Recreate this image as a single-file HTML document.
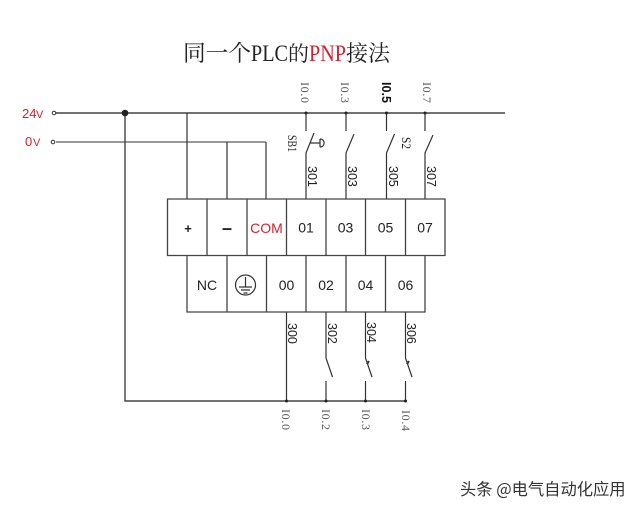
<!DOCTYPE html>
<html><head><meta charset="utf-8"><style>
html,body{margin:0;padding:0;background:#fff}
svg{display:block}
text{font-family:"Liberation Sans","Noto Sans CJK SC",sans-serif}
.s{font-family:"Liberation Serif","Noto Serif CJK SC",serif}
.i{font-family:"Liberation Serif",serif;font-size:12px;fill:#555}
</style></head><body>
<svg width="640" height="512" viewBox="0 0 640 512" xmlns="http://www.w3.org/2000/svg">
<rect width="640" height="512" fill="#fff"/>
<text x="183" y="61" class="s" font-size="22.700" fill="#222">同一个</text>
<text x="251" y="61" class="s" font-size="23" fill="#222" textLength="37" lengthAdjust="spacingAndGlyphs">PLC</text>
<text x="288" y="61" class="s" font-size="21" fill="#222">的</text>
<text x="309" y="61" class="s" font-size="23" fill="#d42030" textLength="37" lengthAdjust="spacingAndGlyphs">PNP</text>
<text x="346" y="61" class="s" font-size="22" fill="#222">接法</text>

<text x="22" y="118" font-size="13" fill="#d9202a">24</text><text x="36" y="118" font-size="11" fill="#d9202a">V</text>
<text x="25" y="146" font-size="13" fill="#d9202a">0</text><text x="33" y="146" font-size="11" fill="#d9202a">V</text>

<g fill="none" stroke="#333" stroke-width="1.2">
<path d="M56 113H505" stroke="#444" stroke-width="1.6"/>
<path d="M56 142H266" stroke-width="1.1"/>
<circle cx="54" cy="113" r="1.8" fill="#fff" stroke-width="1"/>
<circle cx="53" cy="142" r="1.8" fill="#fff" stroke-width="1"/>
<path d="M125 113V401H407" stroke="#444" stroke-width="1.4"/>
<path d="M187 113V199M227 142V199M266 142V199"/>
<!-- top switches -->
<path d="M306 113V131M306 199V153L314 133M346 113V131M346 199V153L354 134M386.500 113V131M386.500 199V153L394.500 134M425 113V131M425 199V153L433 135"/>
<path d="M310 143H320M320 139V147M320 139C325.500 139 325.500 147 320 147"/>
<!-- bottom switches -->
<path d="M286.500 312V401M326 312V358L332.500 377M326 381V401M365.500 312V358L372 377M365.500 381V401M405.500 312V358L412 377M405.500 381V401"/>
<path d="M367 364L369 361M407 364L409 361" stroke-width="2"/>
<!-- terminal block -->
<path d="M167.500 199H445V255.500H167.500ZM207 199V255.500M247 199V255.500M286.500 199V255.500M326 199V255.500M365.500 199V255.500M405.500 199V255.500" stroke="#444" stroke-width="1.3"/>
<path d="M187 255.500V312H425V255.500M227 255.500V312M266.500 255.500V312M306 255.500V312M346 255.500V312M385.500 255.500V312" stroke="#444" stroke-width="1.3"/>
<circle cx="245.500" cy="285" r="10" stroke-width="1.2"/>
<path d="M245.500 277V287M239 287H252M241 290H250M243.500 293H247.500" stroke-width="1.2"/>
</g>
<g fill="#222">
<circle cx="125" cy="113" r="3.300"/>
<circle cx="306" cy="113" r="1.500"/><circle cx="346" cy="113" r="1.500"/><circle cx="386.500" cy="113" r="1.500"/><circle cx="425" cy="113" r="1.500"/>
<circle cx="286.500" cy="401" r="1.500"/><circle cx="326" cy="401" r="1.500"/><circle cx="365.500" cy="401" r="1.500"/><circle cx="405.500" cy="401" r="1.500"/>
</g>

<g font-size="14" fill="#222" text-anchor="middle">
<text x="188" y="233" font-size="13" font-weight="bold">+</text>
<text x="227" y="234" font-size="18" font-weight="bold">–</text>
<text x="266.500" y="233" fill="#d9202a">COM</text>
<text x="306" y="232.500">01</text><text x="345.500" y="232.500">03</text><text x="385.500" y="232.500">05</text><text x="425" y="232.500">07</text>
<text x="207" y="290">NC</text>
<text x="286.500" y="290">00</text><text x="326" y="290">02</text><text x="365.500" y="290">04</text><text x="405.500" y="290">06</text>
</g>

<g font-size="12.500" fill="#222">
<text transform="translate(308,166) rotate(90)">301</text>
<text transform="translate(348,166) rotate(90)">303</text>
<text transform="translate(389,166) rotate(90)">305</text>
<text transform="translate(427,166) rotate(90)">307</text>
<text transform="translate(288,323) rotate(90)">300</text>
<text transform="translate(328,323) rotate(90)">302</text>
<text transform="translate(367,322) rotate(90)">304</text>
<text transform="translate(407,323) rotate(90)">306</text>
</g>

<g>
<text class="i" transform="translate(301,82) rotate(90)" textLength="21" lengthAdjust="spacing">I0.0</text>
<text class="i" transform="translate(341,82) rotate(90)" textLength="21" lengthAdjust="spacing">I0.3</text>
<text transform="translate(382,82) rotate(90)" font-size="13" fill="#111" font-weight="bold" textLength="21" lengthAdjust="spacingAndGlyphs">I0.5</text>
<text class="i" transform="translate(423,82) rotate(90)" textLength="21" lengthAdjust="spacing">I0.7</text>
<text class="i" transform="translate(282,409) rotate(90)" textLength="21" lengthAdjust="spacing">I0.0</text>
<text class="i" transform="translate(322,409) rotate(90)" textLength="21" lengthAdjust="spacing">I0.2</text>
<text class="i" transform="translate(362,409) rotate(90)" textLength="21" lengthAdjust="spacing">I0.3</text>
<text class="i" transform="translate(402,410) rotate(90)" textLength="21" lengthAdjust="spacing">I0.4</text>
<text class="s" transform="translate(288,135) rotate(90)" font-size="12.500" fill="#222" textLength="17" lengthAdjust="spacingAndGlyphs">SB1</text>
<text class="s" transform="translate(402,137) rotate(90)" font-size="13" fill="#222" textLength="12" lengthAdjust="spacingAndGlyphs">S2</text>
</g>

<text x="460" y="495" font-size="16.300" fill="#333" style="font-family:'Noto Sans CJK SC',sans-serif">头条 @电气自动化应用</text>
</svg>
</body></html>
